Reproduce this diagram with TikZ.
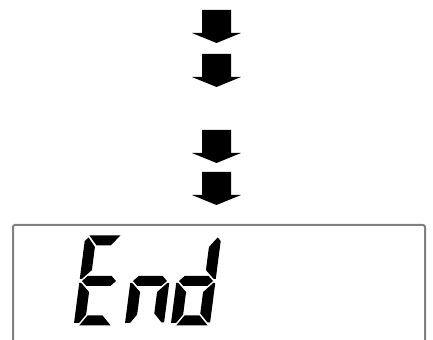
\documentclass[tikz,border=0pt]{standalone}
\usepackage{tikz}

% width of one lcd digit (centre of left bar to centre of right bar)
\newcommand{\dw}{28}
\newcommand{\sega}{\fill[seg] (-1.5,-45.5) -- (\dw+1.5,-45.5) -- (\dw-7,-35.5) -- (7,-35.5) -- cycle;}
\newcommand{\segb}{\fill[seg] (\dw+5.5,-40) -- (\dw+2,-43.5) -- (\dw-5.5,-34) -- (\dw-5.5,-11) -- (\dw+3.5,-2) -- (\dw+5.5,-2) -- cycle;}
\newcommand{\segc}{\fill[seg] (\dw+5.5,2) -- (\dw+3.5,2) -- (\dw-5.5,11) -- (\dw-5.5,32.5) -- (\dw+3,41.5) -- (\dw+5.5,41.5) -- cycle;}
\newcommand{\segd}{\fill[seg] (0,44.5) -- (\dw+3.5,44.5) -- (\dw-6,34.5) -- (7,34.5) -- cycle;}
\newcommand{\sege}{\fill[seg] (-5.5,2) -- (-3.5,2) -- (5.5,11) -- (5.5,33.5) -- (-0.5,42) -- (-5.5,42) -- cycle;}
\newcommand{\segf}{\fill[seg] (-5.5,-40) -- (-2,-43.5) -- (5.5,-34) -- (5.5,-11) -- (-3.5,-2) -- (-5.5,-2) -- cycle;}
\newcommand{\segg}{\fill[seg] (-3,0) -- (2,-5) -- (\dw-2,-5) -- (\dw+3,0) -- (\dw-2,5) -- (2,5) -- cycle;}

\begin{document}
\begin{tikzpicture}[x=0.5pt,y=-0.5pt,
  seg/.style={fill=black},
  downarrow/.style={fill=black},
  lcdframe/.style={draw=black!50,line width=1pt,rounded corners=1pt}]
\useasboundingbox (0,0) rectangle (433,340);

% block arrows
\foreach \t in {10,54,130,172}
  \fill[downarrow] (202,\t) -- (231,\t) -- (231,\t+23) -- (241,\t+23)
    -- (216.5,\t+33) -- (192,\t+23) -- (202,\t+23) -- cycle;

% display
\draw[lcdframe] (13,345) -- (13,225) -- (425,225) -- (425,345);

% E
\begin{scope}[shift={(85,281)},xslant=0.13]
\sega \segd \sege \segf \segg
\end{scope}
% n
\begin{scope}[shift={(136,281)},xslant=0.13]
\segc \sege \segg
\end{scope}
% d
\begin{scope}[shift={(182,281)},xslant=0.13]
\segb \segc \segd \sege \segg
\end{scope}
\end{tikzpicture}
\end{document}
